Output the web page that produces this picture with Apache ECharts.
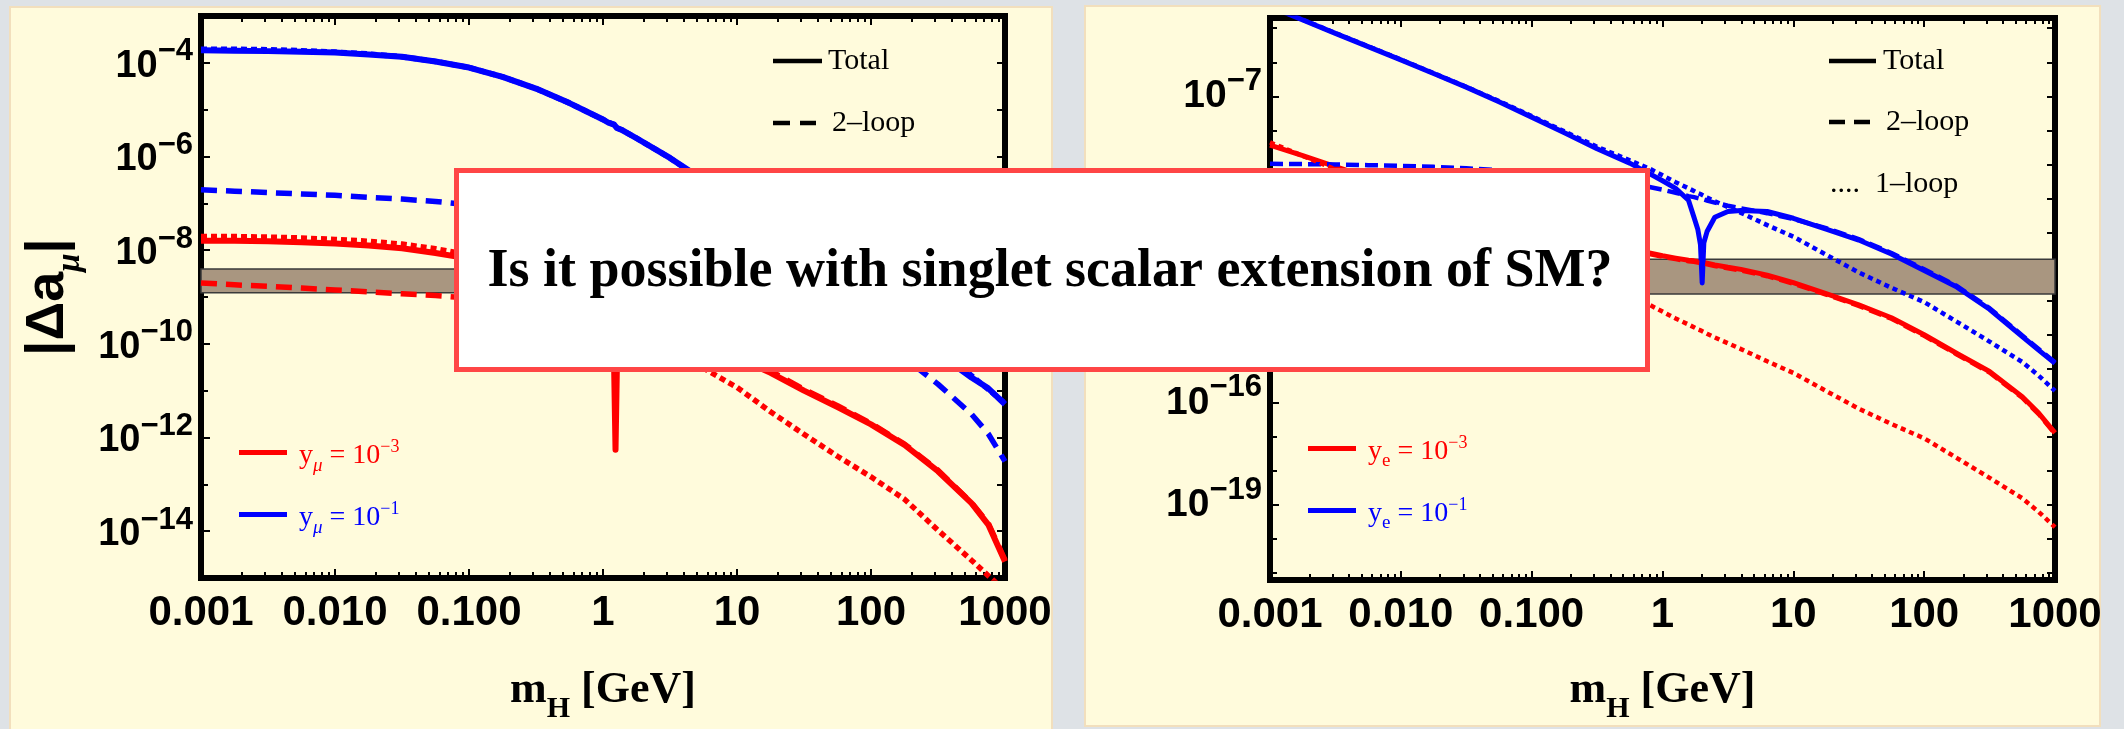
<!DOCTYPE html>
<html>
<head>
<meta charset="utf-8">
<script src="https://cdn.jsdelivr.net/npm/echarts@6.0.0/dist/echarts.min.js"></script>
<style>
html, body { margin: 0; padding: 0; background: #dee2e6; }
#main { width: 2124px; height: 729px; }
</style>
</head>
<body>
<div id="main"></div>
<script>
// ---- data ----
// masses in GeV, every curve value is log10 |Δa|

// left panel (muon)
var mH_mu = [0.001, 0.00178, 0.00316, 0.00562, 0.01, 0.0178, 0.0316, 0.0562, 0.1, 0.178, 0.316, 0.562,
    1, 1.1, 1.21, 1.24, 1.27, 1.4, 1.78, 3.16, 5.62, 10, 17.8, 31.6, 56.2, 100, 178, 316, 562, 750, 1000];
var muTotal_y1 = [-3.73, -3.74, -3.75, -3.765, -3.78, -3.82, -3.87, -3.97, -4.10, -4.30, -4.55, -4.86,
    -5.21, -5.28, -5.32, -5.36, -5.39, -5.44, -5.61, -6.03, -6.50, -6.98, -7.47, -7.97, -8.47, -9.0, -9.55, -10.2, -10.72, -10.95, -11.29];
var muTwoLoop_y1 = [-6.71, -6.74, -6.77, -6.80, -6.83, -6.87, -6.91, -6.96, -7.03, -7.10, -7.18, -7.27,
    -7.37, -7.39, -7.41, -7.42, -7.43, -7.45, -7.52, -7.72, -7.98, -8.28, -8.62, -9.0, -9.42, -9.88, -10.30, -10.86, -11.50, -11.92, -12.51];
var muOneLoop_y1 = [-3.71, -3.71, -3.72, -3.74, -3.77, -3.81, -3.87, -3.97, -4.10, -4.30, -4.55, -4.86,
    -5.21, -5.27, -5.32, -5.36, -5.39, -5.44, -5.61, -6.03, -6.52, -6.93, -7.45, -7.93, -8.40, -8.84, -9.32, -9.98, -10.68, -10.97, -11.27];
var muTotal_y3 = [-7.80, -7.80, -7.81, -7.83, -7.86, -7.90, -7.96, -8.06, -8.18, -8.40, -8.69, -9.08,
    -9.62, -9.95, -10.46, -12.26, -10.46, -10.15, -10.02, -9.98, -10.1, -10.3, -10.62, -11.0, -11.35, -11.72, -12.16, -12.72, -13.40, -13.86, -14.65];
var muTwoLoop_y3 = [-8.70, -8.74, -8.77, -8.81, -8.85, -8.89, -8.93, -8.97, -9.02, -9.08, -9.15, -9.24,
    -9.33, -9.35, -9.36, -9.37, -9.38, -9.40, -9.46, -9.68, -9.95, -10.26, -10.58, -10.97, -11.32, -11.70, -12.14, -12.70, -13.39, -13.83, -14.62];
var muOneLoop_y3 = [-7.71, -7.71, -7.72, -7.74, -7.77, -7.81, -7.87, -7.97, -8.10, -8.30, -8.55, -8.86,
    -9.21, -9.27, -9.33, -9.36, -9.38, -9.44, -9.61, -10.03, -10.52, -10.93, -11.45, -11.93, -12.40, -12.84, -13.32, -13.98, -14.62, -14.95, -15.28];
var bandMu = [-8.91, -8.40];

// right panel (electron)
var mH_e = [0.001, 0.00178, 0.00316, 0.00562, 0.01, 0.0178, 0.0316, 0.0562, 0.1, 0.178, 0.316, 0.562,
    0.794, 1, 1.26, 1.58, 1.74, 1.86, 1.95, 2.01, 2.07, 2.19, 2.51, 3.16, 3.98, 6.31,
    10, 17.8, 31.6, 56.2, 100, 178, 316, 562, 750, 1000];
var eTotal_y1 = [-4.36, -4.76, -5.15, -5.54, -5.93, -6.33, -6.73, -7.16, -7.61, -8.07, -8.54, -8.96,
    -9.27, -9.48, -9.70, -10.05, -10.55, -10.9, -11.35, -12.48, -11.3, -10.97, -10.55, -10.38, -10.35, -10.38,
    -10.58, -10.9, -11.22, -11.63, -12.11, -12.60, -13.25, -14.05, -14.45, -14.84];
var eTwoLoop_y1 = [-8.98, -8.99, -9.0, -9.02, -9.04, -9.07, -9.11, -9.17, -9.24, -9.33, -9.44, -9.56,
    -9.66, -9.74, -9.83, -9.93, -9.96, -9.99, -10.01, -10.02, -10.03, -10.06, -10.12, -10.21, -10.29, -10.43,
    -10.60, -10.87, -11.19, -11.60, -12.08, -12.57, -13.22, -14.02, -14.42, -14.81];
var eOneLoop_y1 = [-4.35, -4.75, -5.14, -5.53, -5.92, -6.32, -6.72, -7.14, -7.58, -8.03, -8.48, -8.88,
    -9.12, -9.32, -9.52, -9.70, -9.78, -9.84, -9.87, -9.90, -9.92, -9.97, -10.08, -10.25, -10.42, -10.78,
    -11.12, -11.65, -12.17, -12.62, -13.04, -13.62, -14.2, -14.8, -15.2, -15.65];
var eTotal_y3 = [-8.43, -8.74, -9.06, -9.38, -9.70, -10.02, -10.33, -10.62, -10.88, -11.1, -11.3, -11.48,
    -11.6, -11.68, -11.75, -11.81, -11.83, -11.85, -11.86, -11.87, -11.88, -11.9, -11.95, -12.02, -12.08, -12.25,
    -12.47, -12.79, -13.12, -13.50, -14.0, -14.55, -15.08, -15.82, -16.3, -16.88];
var eTwoLoop_y3 = [-10.98, -10.99, -11.0, -11.02, -11.05, -11.09, -11.14, -11.2, -11.27, -11.35, -11.44, -11.54,
    -11.63, -11.71, -11.78, -11.84, -11.86, -11.88, -11.89, -11.9, -11.91, -11.93, -11.98, -12.05, -12.11, -12.28,
    -12.5, -12.82, -13.15, -13.53, -14.03, -14.58, -15.11, -15.85, -16.33, -16.91];
var eOneLoop_y3 = [-8.35, -8.75, -9.14, -9.53, -9.92, -10.32, -10.72, -11.14, -11.58, -12.03, -12.48, -12.88,
    -13.12, -13.32, -13.52, -13.70, -13.78, -13.84, -13.87, -13.90, -13.92, -13.97, -14.08, -14.25, -14.42, -14.78,
    -15.12, -15.65, -16.17, -16.62, -17.04, -17.62, -18.2, -18.8, -19.2, -19.65];
var bandE = [-12.80, -11.78];

// tick labels
var xMajor = [-3, -2, -1, 0, 1, 2, 3];
var xMajorText = ['0.001', '0.010', '0.100', '1', '10', '100', '1000'];
var muTicks = [-14, -13, -12, -11, -10, -9, -8, -7, -6, -5, -4];
var muLabels = [-14, -12, -10, -8, -6, -4];
var eTicks = [-21, -20, -19, -18, -17, -16, -15, -14, -13, -12, -11, -10, -9, -8, -7, -6, -5];
var eLabels = [-19, -16, -13, -10, -7];

var xMinor = [];
for (var n = -3; n < 3; n++) {
    for (var k = 2; k <= 9; k++) xMinor.push(n + Math.log10(k));
}

var RED = '#ff0000', BLUE = '#0000ff';
var SANS = '"Liberation Sans", Arial, sans-serif';
var SERIF = '"Liberation Serif", "Times New Roman", serif';

var chart = echarts.init(document.getElementById('main'));

function pts(ms, vals) {
    return ms.map(function (m, i) { return [Math.log10(m), vals[i]]; });
}

function curve(name, ms, vals, color, kind, panel) {
    var w = panel === 0 ? 6 : 5;
    var type = 'solid';
    if (kind === 'dashed') type = panel === 0 ? [16, 9] : [13, 6];
    if (kind === 'dotted') type = panel === 0 ? [6, 4] : [5, 4];
    return {
        name: name, type: 'line',
        xAxisIndex: panel === 0 ? 0 : 4, yAxisIndex: panel === 0 ? 0 : 3,
        data: pts(ms, vals), showSymbol: false, symbol: 'none',
        itemStyle: { color: color },
        lineStyle: { color: color, width: kind === 'solid' ? w : w - 0.5, type: type, join: 'round' }
    };
}

function xAx(grid, pos, ticks, len, withLabels) {
    var ax = {
        type: 'value', gridIndex: grid, position: pos, min: -3, max: 3,
        axisLine: { show: false, onZero: false },
        splitLine: { show: false },
        axisTick: { show: true, inside: true, length: len, customValues: ticks, lineStyle: { color: '#000', width: 2 } },
        axisLabel: { show: false }
    };
    if (withLabels) {
        ax.axisLabel = {
            show: true, customValues: xMajor, margin: 14,
            fontFamily: SANS, fontSize: 42, fontWeight: 'bold', color: '#000',
            formatter: function (v) { return xMajorText[xMajor.indexOf(Math.round(v))]; }
        };
        ax.name = '{m|m}{h|H}{g| [GeV]}';
        ax.nameLocation = 'middle';
        ax.nameGap = grid === 0 ? 80 : 78;
        ax.nameTextStyle = { rich: {
            m: { fontSize: 44, fontWeight: 'bold', fontFamily: SERIF, color: '#000' },
            h: { fontSize: 30, fontWeight: 'bold', fontFamily: SERIF, color: '#000', padding: [36, 0, 0, 0] },
            g: { fontSize: 44, fontWeight: 'bold', fontFamily: SERIF, color: '#000' }
        } };
    }
    return ax;
}

function yAx(grid, pos, min, max, ticks, len, labels, rich) {
    var ax = {
        type: 'value', gridIndex: grid, position: pos, min: min, max: max,
        axisLine: { show: false, onZero: false },
        splitLine: { show: false },
        axisTick: { show: true, inside: true, length: len, customValues: ticks, lineStyle: { color: '#000', width: 2 } },
        axisLabel: { show: false }
    };
    if (labels) {
        ax.axisLabel = {
            show: true, customValues: labels, margin: 8,
            formatter: function (v) { return '{b|10}{s|\u2212' + Math.abs(Math.round(v)) + '}'; },
            rich: rich
        };
    }
    return ax;
}

var muLabelRich = {
    b: { fontSize: 38, fontWeight: 'bold', fontFamily: SANS, color: '#000', padding: [7, 0, 0, 0] },
    s: { fontSize: 31, fontWeight: 'bold', fontFamily: SANS, color: '#000', padding: [0, 0, 22, 0] }
};
var eLabelRich = {
    b: { fontSize: 39, fontWeight: 'bold', fontFamily: SANS, color: '#000' },
    s: { fontSize: 31, fontWeight: 'bold', fontFamily: SANS, color: '#000', padding: [0, 0, 30, 0] }
};

var yAxes = [
    yAx(0, 'left', -15, -3, muLabels, 9, muLabels, muLabelRich),
    yAx(0, 'left', -15, -3, muTicks, 7),
    yAx(0, 'right', -15, -3, muTicks, 8),
    yAx(1, 'left', -21.2, -4.7, eLabels, 9, eLabels, eLabelRich),
    yAx(1, 'left', -21.2, -4.7, eTicks, 7),
    yAx(1, 'right', -21.2, -4.7, eTicks, 8)
];
yAxes[0].name = '{b||\u0394a}{s|\u03bc}{b||}';
yAxes[0].nameLocation = 'middle';
yAxes[0].nameGap = 114;
yAxes[0].nameTextStyle = { rich: {
    b: { fontSize: 54, fontWeight: 'bold', fontFamily: SANS, color: '#000' },
    s: { fontSize: 33, fontWeight: 'bold', fontStyle: 'italic', fontFamily: SERIF, color: '#000', padding: [44, 0, 0, 0] }
} };

// coupling legends
var legendText = {
    'y_\u03bc = 10^-3': '{rb| y}{rs|\u03bc}{rb| = 10}{rp|\u22123}',
    'y_\u03bc = 10^-1': '{bb| y}{bs|\u03bc}{bb| = 10}{bp|\u22121}',
    'y_e = 10^-3': '{rb| y}{re|e}{rb| = 10}{rp|\u22123}',
    'y_e = 10^-1': '{bb| y}{be|e}{bb| = 10}{bp|\u22121}'
};
function legendRich() {
    var r = {};
    [['r', RED], ['b', BLUE]].forEach(function (c) {
        r[c[0] + 'b'] = { fontSize: 28, fontFamily: SERIF, color: c[1], lineHeight: 28, padding: [6, 0, 0, 0] };
        r[c[0] + 's'] = { fontSize: 19, fontFamily: SERIF, fontStyle: 'italic', color: c[1], lineHeight: 19, padding: [26, 0, 0, 0] };
        r[c[0] + 'e'] = { fontSize: 19, fontFamily: SERIF, color: c[1], lineHeight: 19, padding: [26, 0, 0, 0] };
        r[c[0] + 'p'] = { fontSize: 18, fontFamily: SERIF, color: c[1], lineHeight: 18, padding: [0, 0, 11, 0] };
    });
    return r;
}
function couplingLegend(names, left, top) {
    return {
        data: names, left: left, top: top, orient: 'vertical', padding: 0,
        itemWidth: 48, itemHeight: 5, itemGap: 17, icon: 'rect', selectedMode: false,
        formatter: function (name) { return legendText[name]; },
        textStyle: { rich: legendRich() }
    };
}

var muR = 'y_\u03bc = 10^-3', muB = 'y_\u03bc = 10^-1', eR = 'y_e = 10^-3', eB = 'y_e = 10^-1';

var series = [
    curve(muR, mH_mu, muTotal_y3, RED, 'solid', 0),
    curve(muB, mH_mu, muTotal_y1, BLUE, 'solid', 0),
    curve(muR, mH_mu, muTwoLoop_y3, RED, 'dashed', 0),
    curve(muB, mH_mu, muTwoLoop_y1, BLUE, 'dashed', 0),
    curve(muR, mH_mu, muOneLoop_y3, RED, 'dotted', 0),
    curve(muB, mH_mu, muOneLoop_y1, BLUE, 'dotted', 0),
    curve(eR, mH_e, eTotal_y3, RED, 'solid', 1),
    curve(eB, mH_e, eTotal_y1, BLUE, 'solid', 1),
    curve(eR, mH_e, eTwoLoop_y3, RED, 'dashed', 1),
    curve(eB, mH_e, eTwoLoop_y1, BLUE, 'dashed', 1),
    curve(eR, mH_e, eOneLoop_y3, RED, 'dotted', 1),
    curve(eB, mH_e, eOneLoop_y1, BLUE, 'dotted', 1)
];
function band(lim) {
    return {
        silent: true,
        itemStyle: { color: '#a99680', borderColor: '#3a3a3a', borderWidth: 1.5 },
        data: [[{ xAxis: -3, yAxis: lim[1] }, { xAxis: 3, yAxis: lim[0] }]]
    };
}
series[0].markArea = band(bandMu);
series[6].markArea = band(bandE);

// key for the line styles, the panels and the overlay note
function keyLine(x1, x2, y) {
    return { type: 'line', z: 10, shape: { x1: x1, y1: y, x2: x2, y2: y }, style: { stroke: '#000', lineWidth: 4.5 } };
}
function keyText(x, y, t) {
    return { type: 'text', z: 10, x: x, y: y, style: { text: t, fontSize: 30, fontFamily: SERIF, fill: '#000',
        align: 'left', verticalAlign: 'middle', textAlign: 'left', textVerticalAlign: 'middle' } };
}

var graphics = [
    { type: 'rect', z: -10, shape: { x: 10, y: 7, width: 1042, height: 730 }, style: { fill: '#fffbdc', stroke: '#f2dfbd', lineWidth: 2 } },
    { type: 'rect', z: -10, shape: { x: 1085, y: 6, width: 1015, height: 720 }, style: { fill: '#fffbdc', stroke: '#f2dfbd', lineWidth: 2 } },
    keyLine(773, 822, 61), keyText(828, 61, 'Total'),
    keyLine(773, 790, 123), keyLine(800, 816, 123), keyText(832, 123, '2\u2013loop'),
    keyLine(1829, 1876, 61), keyText(1883, 61, 'Total'),
    keyLine(1829, 1845, 122), keyLine(1854, 1870, 122), keyText(1886, 122, '2\u2013loop'),
    keyText(1830, 184, '....'), keyText(1875, 184, '1\u2013loop'),
    { type: 'rect', z: 100, shape: { x: 456.5, y: 170.5, width: 1191, height: 199 }, style: { fill: '#ffffff', stroke: '#ff4646', lineWidth: 5 } },
    { type: 'text', z: 101, x: 1050, y: 272, style: { text: 'Is it possible with singlet scalar extension of SM?',
        fontSize: 54, fontWeight: 'bold', fontFamily: SERIF, fill: '#000',
        align: 'center', verticalAlign: 'middle', textAlign: 'center', textVerticalAlign: 'middle' } }
];

chart.setOption({
    animation: false,
    grid: [
        { left: 201, top: 16, width: 804, height: 573, show: true, borderColor: '#000', borderWidth: 6 },
        { left: 1270, top: 18, width: 785, height: 566, show: true, borderColor: '#000', borderWidth: 6 }
    ],
    xAxis: [
        xAx(0, 'bottom', xMajor, 9, true),
        xAx(0, 'bottom', xMinor, 6, false),
        xAx(0, 'top', xMajor, 9, false),
        xAx(0, 'top', xMinor, 6, false),
        xAx(1, 'bottom', xMajor, 9, true),
        xAx(1, 'bottom', xMinor, 6, false),
        xAx(1, 'top', xMajor, 9, false),
        xAx(1, 'top', xMinor, 6, false)
    ],
    yAxis: yAxes,
    legend: [
        couplingLegend([muR, muB], 239, 430),
        couplingLegend([eR, eB], 1308, 426)
    ],
    graphic: { elements: graphics },
    series: series
});
</script>
</body>
</html>
